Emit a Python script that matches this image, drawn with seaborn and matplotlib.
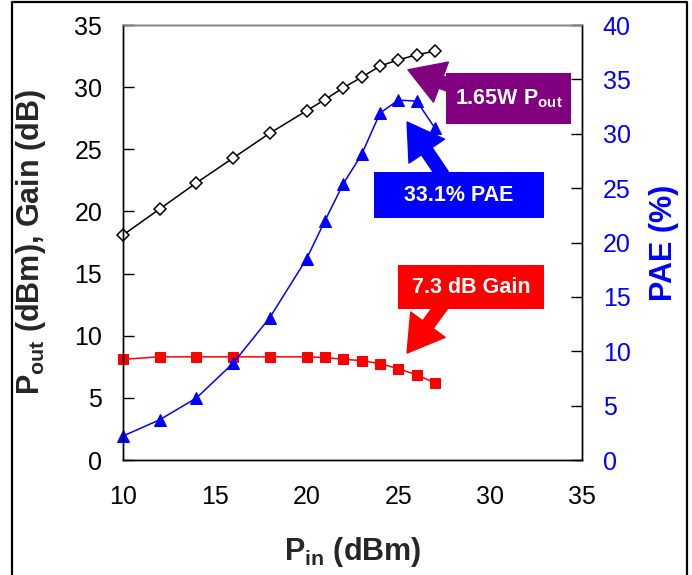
import matplotlib
matplotlib.use("Agg")
import matplotlib.pyplot as plt
import seaborn as sns
from matplotlib.lines import Line2D
from matplotlib.patches import Rectangle

# data
pin = [10, 12, 14, 16, 18, 20, 21, 22, 23, 24, 25, 26, 27]
pout = [18.1, 20.2, 22.3, 24.3, 26.3, 28.1, 29.0, 29.95, 30.8, 31.7, 32.2, 32.6, 32.9]
gain = [8.1, 8.3, 8.3, 8.3, 8.3, 8.3, 8.25, 8.1, 8.0, 7.75, 7.35, 6.85, 6.2]
pae = [2.2, 3.7, 5.7, 8.9, 13.1, 18.5, 22.0, 25.4, 28.1, 31.9, 33.1, 33.0, 30.5]

x_ticks = [10, 15, 20, 25, 30, 35]
left_ticks = [0, 5, 10, 15, 20, 25, 30, 35]
right_ticks = [0, 5, 10, 15, 20, 25, 30, 35, 40]

sns.set_style("white")
plt.rcParams['font.family'] = ['Liberation Sans', 'DejaVu Sans']
plt.rcParams['mathtext.fontset'] = 'custom'
plt.rcParams['mathtext.rm'] = 'Liberation Sans'
plt.rcParams['mathtext.bf'] = 'Liberation Sans:bold'

fig = plt.figure(figsize=(6.92, 5.75), dpi=100)
ax = fig.add_axes([0.1777, 0.2, 0.6633, 0.7565])
ax2 = ax.twinx()

# Pout and Gain on left axis
sns.lineplot(x=pin, y=pout, ax=ax, color='black', lw=1.1, marker='D', markersize=6.5,
             markerfacecolor='white', markeredgecolor='black', markeredgewidth=1.1, clip_on=False)
sns.lineplot(x=pin, y=gain, ax=ax, color='red', lw=1.1, marker='s', markersize=6.5,
             markerfacecolor='red', markeredgecolor='red', clip_on=False)
# PAE on right axis
sns.lineplot(x=pin, y=pae, ax=ax2, color='blue', lw=1.1, marker='^', markersize=8.5,
             markerfacecolor='blue', markeredgecolor='blue', clip_on=False)

ax.set_xlim(10, 35)
ax.set_ylim(0, 35)
ax2.set_ylim(0, 40)
ax.set_xticks(x_ticks)
ax.set_yticks(left_ticks)
ax2.set_yticks(right_ticks)

ax.tick_params(axis='x', direction='in', length=8, width=1, labelsize=18, pad=18, colors='black')
ax.tick_params(axis='y', direction='in', length=8, width=1, labelsize=18, pad=15, colors='black')
ax2.tick_params(axis='y', direction='in', length=8, width=1, labelsize=18, pad=15,
                colors='black', labelcolor='blue')

for a in (ax, ax2):
    for s in a.spines.values():
        s.set_color('black')
        s.set_linewidth(1.0)
ax2.spines['top'].set_color('#888888')

ax.set_xlabel(r'$\mathbf{P_{in}}$ (dBm)', fontsize=22, fontweight='bold')
ax.set_ylabel(r'$\mathbf{P_{out}}$ (dBm), Gain (dB)', fontsize=22, fontweight='bold')
ax2.set_ylabel('PAE (%)', fontsize=22, fontweight='bold', color='blue')
ax.xaxis.set_label_coords(0.5, -0.172)
ax.yaxis.set_label_coords(-0.163, 0.5)
ax2.yaxis.set_label_coords(1.146, 0.5)

# annotation boxes and block arrows (axes fraction coordinates)
def callout(text, color, box, tip, tail):
    ax2.annotate('', xy=tip, xytext=tail, xycoords='axes fraction', textcoords='axes fraction',
                 arrowprops=dict(arrowstyle='simple,head_length=1.15,head_width=1.4,tail_width=0.42',
                                 mutation_scale=22, color=color, shrinkA=0, shrinkB=0), zorder=4)
    x0, x1, y0, y1 = box
    ax2.add_patch(Rectangle((x0, y0), x1 - x0, y1 - y0, transform=ax2.transAxes,
                            facecolor=color, edgecolor='none', zorder=5, clip_on=False))
    ax2.text((x0 + x1) / 2, (y0 + y1) / 2, text, transform=ax2.transAxes, ha='center', va='center',
             fontsize=15.5, fontweight='bold', color='white', zorder=6)

callout(r'1.65W $\mathbf{P_{out}}$', '#800080', (0.704, 0.976, 0.772, 0.890), (0.621, 0.897), (0.710, 0.862))
callout('33.1% PAE', '#0000FF', (0.547, 0.917, 0.556, 0.662), (0.619, 0.777), (0.697, 0.655))
callout('7.3 dB Gain', '#FF0000', (0.599, 0.917, 0.347, 0.448), (0.619, 0.246), (0.695, 0.355))

# outer frame around the figure (open at the bottom edge)
fig.add_artist(Line2D([12 / 692, 12 / 692, 687 / 692, 687 / 692],
                      [-0.01, 1 - 1.5 / 575, 1 - 1.5 / 575, -0.01],
                      transform=fig.transFigure, color='black', lw=1.6))

plt.savefig('out.png', dpi=100)
